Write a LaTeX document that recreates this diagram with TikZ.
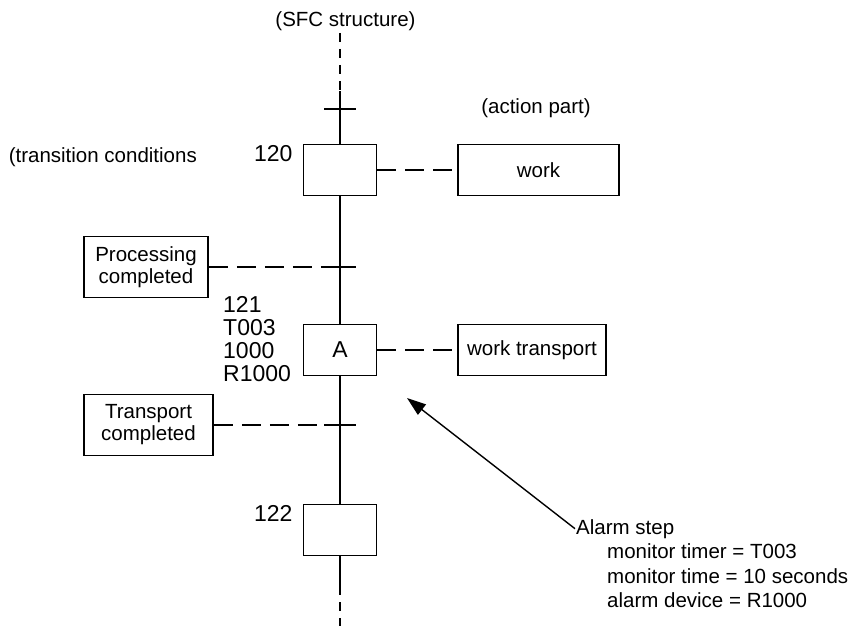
\documentclass[tikz,border=0pt]{standalone}
\usepackage{fontspec}
\setmainfont{Liberation Sans}
\usetikzlibrary{arrows.meta,positioning,calc}
\newcommand\lblfont{\fontsize{20.5}{22}\selectfont}
\newcommand\numfont{\fontsize{23}{23}\selectfont}
\tikzset{
  stepbox/.style={draw,line width=1.7pt,minimum width=73pt,minimum height=51pt,
              inner sep=0pt,font=\numfont},
  condbox/.style={draw,line width=1.7pt,minimum height=61pt,inner sep=0pt,
              align=center,font=\lblfont},
  actbox/.style={draw,line width=1.7pt,minimum height=51pt,inner sep=0pt,
              font=\lblfont},
  stepno/.style={inner sep=0pt,font=\numfont},
  note/.style={inner sep=0pt,font=\lblfont},
  flow/.style={line width=1.8pt},
  openflow/.style={line width=1.8pt,dash pattern=on 9pt off 7pt},
  link/.style={line width=1.7pt,dash pattern=on 19pt off 9pt},
  bar/.style={line width=1.2pt},
  pointer/.style={-{Triangle[length=19pt,width=13pt]},line width=1.4pt},
}
\begin{document}
\begin{tikzpicture}[x=1pt,y=-1pt]
  \useasboundingbox (0,0) rectangle (848,626);
  % SFC structure
  \node[note](sfc) at (345.5,21){(SFC structure)};
  \node[stepbox](s120) at (340,170){};
  \node[stepbox](s121) at (340,350){A};
  \node[stepbox](s122) at (340,530){};
  \node[stepno,anchor=north east](n120) at ([shift={(-10,2)}]s120.north west){120};
  \node[stepno,anchor=north east](n122) at ([shift={(-10,2)}]s122.north west){122};
  \node[stepno,anchor=north west,align=left](n121) at (223,296){121\\T003\\1000\\R1000};
  \coordinate(top) at (340,33);\coordinate(topend) at (340,91);
  \coordinate(t0) at (340,109);\coordinate(t1) at (340,267);\coordinate(t2) at (340,425);
  \coordinate(botend) at (340,586);\coordinate(bot) at (340,626);
  \draw[openflow](top)--(topend);\draw[flow](topend)--(s120.north);
  \draw[flow](s120.south)--(s121.north);\draw[flow](s121.south)--(s122.north);
  \draw[flow](s122.south)--(botend);\draw[openflow](botend)--(bot);
  \draw[bar]([xshift=-16pt]t0)--([xshift=16pt]t0);
  \draw[bar]([xshift=-16pt]t1)--([xshift=16pt]t1);
  \draw[bar]([xshift=-16pt]t2)--([xshift=16pt]t2);
  % transition conditions
  \node[note,anchor=base east](trcond) at (197,162){(transition conditions};
  \node[condbox,minimum width=124pt](c1) at (146,267){Processing\\completed};
  \node[condbox,minimum width=129pt](c2) at (148.5,425){Transport\\completed};
  \draw[link](c1.east)--(t1);\draw[link](c2.east)--(t2);
  % action part
  \node[note](actpart) at (536,108){(action part)};
  \node[actbox,minimum width=161pt](work) at (538.5,170){work};
  \node[actbox,minimum width=148pt](worktr) at (532,350){work transport};
  \draw[link](s120.east)--(work.west);\draw[link](s121.east)--(worktr.west);
  % alarm step
  \coordinate(tip) at (407,398);
  \node[note,anchor=base west,inner sep=1pt](alarm) at (575,534){Alarm step};
  \node[note,anchor=north west,align=left,font=\fontsize{20.5}{24.5}\selectfont](alarmdata)
    at (607,543.5){monitor timer = T003\\monitor time = 10 seconds\\alarm device = R1000};
  \draw[pointer](alarm.west)--(tip);
\end{tikzpicture}
\end{document}
